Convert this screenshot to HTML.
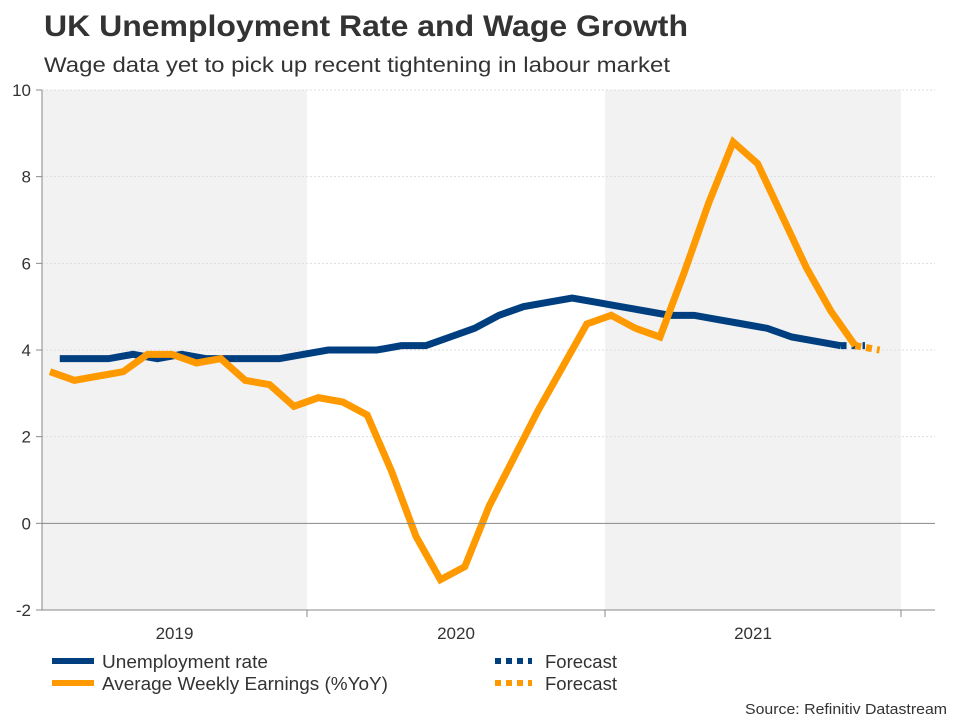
<!DOCTYPE html>
<html><head><meta charset="utf-8"><style>
body{margin:0;background:#fff;}
svg{display:block;font-family:"Liberation Sans",sans-serif;}
</style></head><body>
<svg id="chart" width="960" height="720" viewBox="0 0 960 720">
<text x="44" y="36" font-size="30" font-weight="bold" fill="#333" textLength="644" lengthAdjust="spacingAndGlyphs">UK Unemployment Rate and Wage Growth</text>
<text x="44" y="72" font-size="21" fill="#333" textLength="626" lengthAdjust="spacingAndGlyphs">Wage data yet to pick up recent tightening in labour market</text>
<g id="bands"></g>
<g id="grid"></g>
<g id="series"></g>
<g id="axes"></g>
<g>
<rect x="52" y="658" width="42" height="6" fill="#003f7f"/>
<text x="102" y="668" font-size="18.5" fill="#333" textLength="166" lengthAdjust="spacingAndGlyphs">Unemployment rate</text>
<rect x="52" y="680" width="42" height="6" fill="#ff9900"/>
<text x="102" y="690" font-size="18.5" fill="#333" textLength="286" lengthAdjust="spacingAndGlyphs">Average Weekly Earnings (%YoY)</text>
<line x1="495" y1="661" x2="532" y2="661" stroke="#003f7f" stroke-width="6" stroke-dasharray="6,5"/>
<text x="545" y="668" font-size="18.5" fill="#333">Forecast</text>
<line x1="495" y1="683" x2="532" y2="683" stroke="#ff9900" stroke-width="6" stroke-dasharray="6,5"/>
<text x="545" y="690" font-size="18.5" fill="#333">Forecast</text>
</g>
<text x="745" y="714" font-size="15" fill="#333" textLength="202" lengthAdjust="spacingAndGlyphs">Source: Refinitiv Datastream</text>
</svg>
<script>
const yTicks = [-2, 0, 2, 4, 6, 8, 10];
const years = ["2019", "2020", "2021"];
const unemployment = [3.8,3.8,3.8,3.9,3.8,3.9,3.8,3.8,3.8,3.8,3.9,4.0,4.0,4.0,4.1,4.1,4.3,4.5,4.8,5.0,5.1,5.2,5.1,5.0,4.9,4.8,4.8,4.7,4.6,4.5,4.3,4.2,4.1,4.1];
const earnings = [3.5,3.3,3.4,3.5,3.9,3.9,3.7,3.8,3.3,3.2,2.7,2.9,2.8,2.5,1.2,-0.3,-1.3,-1.0,0.4,1.5,2.6,3.6,4.6,4.8,4.5,4.3,5.8,7.4,8.8,8.3,7.1,5.9,4.9,4.1,4.0];
const unemploymentForecastCount = 1;
const earningsForecastCount = 1;

const NS = "http://www.w3.org/2000/svg";
const L = 42, R = 935, T = 90, B = 610;
const yMin = -2, yMax = 10;
function y(v){ return B - (v - yMin) / (yMax - yMin) * (B - T); }
const step = 24.4;
function x(t){ return 50 + t * step; }
function mk(tag, attrs, parent){ const e = document.createElementNS(NS, tag); for (const k in attrs) e.setAttribute(k, attrs[k]); parent.appendChild(e); return e; }

const bands = document.getElementById("bands");
const yearEdges = [L, 307, 605, 901];
for (let i = 0; i < years.length; i++) {
  if (i % 2 === 0) {
    const r = mk("rect", {x: yearEdges[i], y: T, width: yearEdges[i+1]-yearEdges[i], height: B-T, fill: "#f2f2f2"}, bands);
    
    
  }
}
const grid = document.getElementById("grid");
const axes = document.getElementById("axes");
yTicks.forEach(v => {
  if (v !== 0 && v !== yMin) {
    const g = mk("line", {x1: L, x2: R, y1: y(v), y2: y(v), stroke: "#ddd", "stroke-dasharray": "2,2"}, grid);
    
    
  }
  const tk = mk("line", {x1: 36, x2: L, y1: y(v), y2: y(v), stroke: "#888"}, axes);
  
  
  const t = mk("text", {x: 31, y: y(v) + 6, "font-size": 17, fill: "#333", "text-anchor": "end"}, axes);
  t.textContent = v;
  
  
});
const zero = mk("line", {x1: L, x2: R, y1: y(0), y2: y(0), stroke: "#888"}, axes);


const yax = mk("line", {x1: L, x2: L, y1: T, y2: B, stroke: "#888"}, axes);


const xax = mk("line", {x1: L, x2: R, y1: B, y2: B, stroke: "#888"}, axes);


[307, 605, 901].forEach(px => {
  const tk = mk("line", {x1: px, x2: px, y1: B, y2: B + 7, stroke: "#888"}, axes);
  
  
});
years.forEach((yr, i) => {
  const t = mk("text", {x: (yearEdges[i] + yearEdges[i+1]) / 2, y: 639, "font-size": 17, fill: "#333", "text-anchor": "middle"}, axes);
  t.textContent = yr;
  
  
});

const series = document.getElementById("series");
function drawSeries(vals, offset, nf, color, name){
  const n = vals.length;
  const pts = vals.map((v, i) => [x(i + offset), y(v)]);
  const solid = pts.slice(0, n - nf).map(p => p.join(",")).join(" ");
  const fc = pts.slice(n - nf - 1).map(p => p.join(",")).join(" ");
  const a = mk("polyline", {points: solid, fill: "none", stroke: color, "stroke-width": 7, "stroke-linejoin": "miter"}, series);
  
  
  const b = mk("polyline", {points: fc, fill: "none", stroke: color, "stroke-width": 7, "stroke-dasharray": "6,5"}, series);
  
  
}
drawSeries(unemployment, 0.4, unemploymentForecastCount, "#003f7f", "unemployment-rate");
drawSeries(earnings, 0, earningsForecastCount, "#ff9900", "average-weekly-earnings");
</script>
</body></html>
